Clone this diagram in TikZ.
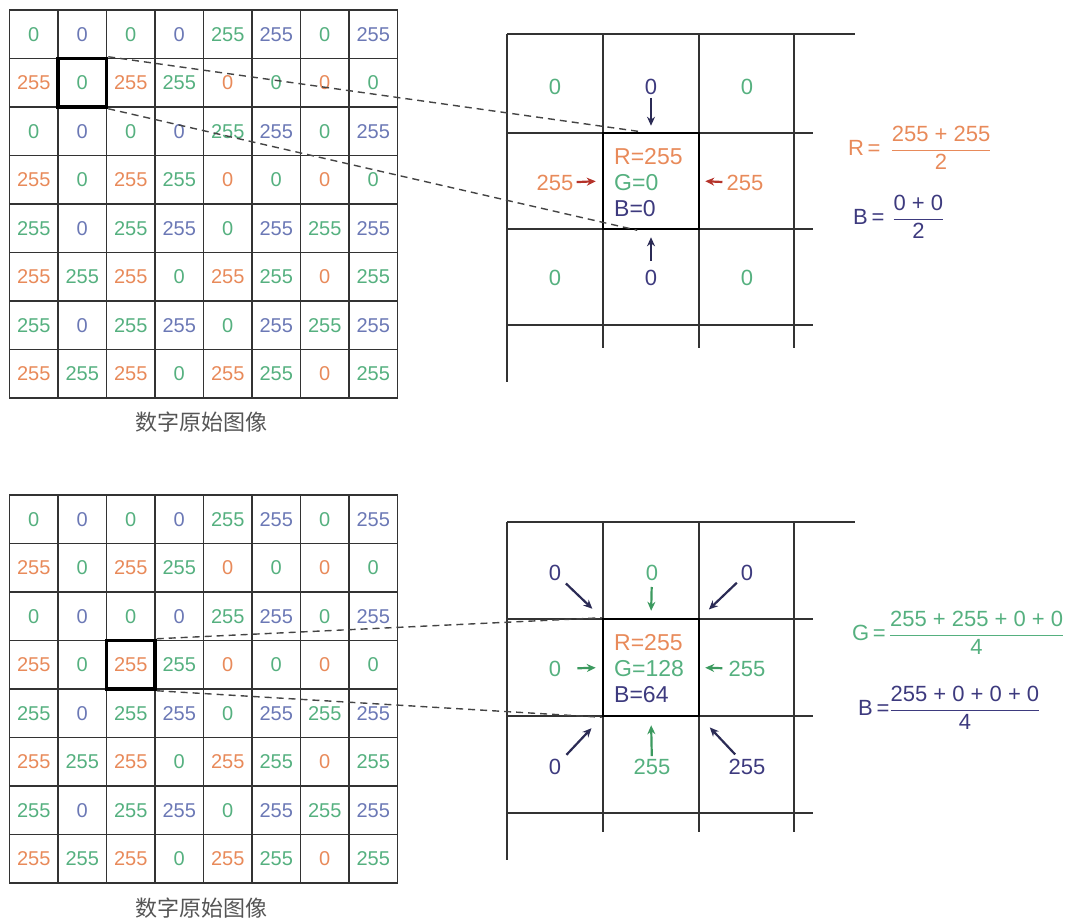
\documentclass[tikz,border=0pt]{standalone}
\usepackage{fontspec}
\setmainfont{Liberation Sans}
\newfontfamily\cjk{Noto Sans CJK SC}
\usepackage{amsmath}
\usepackage{tikz}
\usetikzlibrary{arrows.meta, calc}
\definecolor{rcol}{HTML}{E88A5A}
\definecolor{gcol}{HTML}{55B07F}
\definecolor{bcol}{HTML}{6B78B5}
\definecolor{navy}{HTML}{3D3A7E}
\definecolor{redarr}{HTML}{B5332A}
\definecolor{grnarr}{HTML}{3C9A5F}
\definecolor{navyarr}{HTML}{2B2B55}
\definecolor{gridc}{HTML}{333333}
\definecolor{linkc}{HTML}{444444}
\definecolor{capc}{HTML}{555555}
\colorlet{cell00}{gcol}
\colorlet{cell01}{bcol}
\colorlet{cell10}{rcol}
\colorlet{cell11}{gcol}

\begin{document}
\begin{tikzpicture}[x=1pt, y=-1pt,
  cell/.style={draw=gridc, line width=1.4pt, minimum width=48.5pt,
               minimum height=48.5pt, inner sep=0pt,
               font=\fontsize{20}{20}\selectfont},
  selbox/.style={draw=black, line width=3.5pt, minimum width=48.5pt,
                 minimum height=48.5pt, inner sep=0pt},
  ctrbox/.style={draw=black, line width=2.5pt, minimum width=96pt,
                 minimum height=96pt, inner sep=0pt},
  zline/.style={gridc, line width=1.4pt},
  zlab/.style={font=\fontsize{22}{22}\selectfont, inner sep=1pt},
  vals/.style={anchor=west, align=left, inner sep=0pt,
               font=\fontsize{23}{26}\selectfont},
  arrR/.style={-{Stealth[length=9pt,width=8pt]}, line width=2.2pt, redarr},
  arrN/.style={-{Stealth[length=9pt,width=8pt]}, line width=2.2pt, navyarr},
  arrG/.style={-{Stealth[length=9pt,width=8pt]}, line width=2.2pt, grnarr},
  link/.style={dash pattern=on 7pt off 5pt, line width=1.4pt, linkc},
  formula/.style={anchor=west, inner sep=0pt, font=\fontsize{22}{26}\selectfont},
  caption/.style={font=\cjk\fontsize{22}{22}\selectfont, text=capc}
]
\useasboundingbox (0,0) rectangle (1065,919);

% two copies of the raw pixel grid
\foreach \g/\oy in {1/10, 2/495} {
  \foreach \row [count=\r from 0] in {{0,0,0,0,255,255,0,255},{255,0,255,255,0,0,0,0},
      {0,0,0,0,255,255,0,255},{255,0,255,255,0,0,0,0},{255,0,255,255,0,255,255,255},
      {255,255,255,0,255,255,0,255},{255,0,255,255,0,255,255,255},{255,255,255,0,255,255,0,255}} {
    \foreach \v [count=\c from 0] in \row {
      \pgfmathtruncatemacro\pr{mod(\r,2)}
      \pgfmathtruncatemacro\pc{mod(\c,2)}
      \node[cell, text=cell\pr\pc] (c\g-\r-\c) at ({33.75+48.5*\c}, {\oy+24.25+48.5*\r}) {\v};
    }
  }
}
\node[selbox] (sel1) at (c1-1-1) {};
\node[selbox] (sel2) at (c2-3-2) {};

\node[caption] (cap1) at (201,422) {数字原始图像};
\node[caption] (cap2) at (201,908) {数字原始图像};

% upper zoom
\draw[zline] (507,34) -- (855,34);
\foreach \yy in {133,229,325} \draw[zline] (507,\yy) -- (813,\yy);
\draw[zline] (507,34) -- (507,382);
\foreach \xx in {603,699,794} \draw[zline] (\xx,34) -- (\xx,348);
\node[ctrbox] (ctr1) at (651,181) {};

\node[zlab, text=gcol] (g1a) at (555,87) {0};
\node[zlab, text=gcol] (g1b) at (747,87) {0};
\node[zlab, text=gcol] (g1c) at (555,278) {0};
\node[zlab, text=gcol] (g1d) at (747,278) {0};
\node[zlab, text=navy] (n1t) at (651,87) {0};
\node[zlab, text=navy] (n1b) at (651,278) {0};
\node[zlab, text=rcol] (n1l) at (555,183) {255};
\node[zlab, text=rcol] (n1r) at (745,183) {255};
\node[vals] (val1) at (614,183)
  {\textcolor{rcol}{R=255}\\\textcolor{gcol}{G=0}\\\textcolor{navy}{B=0}};

\draw[arrN, shorten <=2pt, shorten >=6pt] (n1t) -- (ctr1.north);
\draw[arrN, shorten <=8pt, shorten >=7pt] (n1b) -- (ctr1.south);
\draw[arrR, shorten <=2pt, shorten >=6pt] (n1l) -- (ctr1.west);
\draw[arrR, shorten <=3pt, shorten >=5pt] (n1r) -- (ctr1.east);

\draw[link] (sel1.north east) -- ($(ctr1.north west)!0.4!(ctr1.north east)$);
\draw[link] (sel1.south east) -- ($(ctr1.south west)!0.36!(ctr1.south east)$);

\node[formula, text=rcol] (fR) at (848,148) {R\,=\hspace{10pt}$\dfrac{\text{255 + 255}}{\text{2}}$};
\node[formula, text=navy] (fB1) at (853,217) {B\,=\hspace{8pt}$\dfrac{\text{0 + 0}}{\text{2}}$};

% lower zoom
\draw[zline] (507,522) -- (855,522);
\foreach \yy in {619,716,813} \draw[zline] (507,\yy) -- (813,\yy);
\draw[zline] (507,522) -- (507,860);
\foreach \xx in {603,699,794} \draw[zline] (\xx,522) -- (\xx,832);
\node[ctrbox, minimum height=97pt] (ctr2) at (651,667.5) {};

\node[zlab, text=navy] (n2tl) at (555,573) {0};
\node[zlab, text=gcol] (n2t)  at (652,573) {0};
\node[zlab, text=navy] (n2tr) at (747,573) {0};
\node[zlab, text=gcol] (n2l)  at (555,669) {0};
\node[zlab, text=gcol] (n2r)  at (747,669) {255};
\node[zlab, text=navy] (n2bl) at (555,767) {0};
\node[zlab, text=gcol] (n2b)  at (652,767) {255};
\node[zlab, text=navy] (n2br) at (747,767) {255};
\node[vals] (val2) at (614,669)
  {\textcolor{rcol}{R=255}\\\textcolor{gcol}{G=128}\\\textcolor{navy}{B=64}};

\draw[arrN, shorten <=5pt, shorten >=13pt] (n2tl) -- (ctr2.north west);
\draw[arrG, shorten <=5pt, shorten >=7pt] (n2t) -- (ctr2.north);
\draw[arrN, shorten <=4pt, shorten >=12pt] (n2tr) -- (ctr2.north east);
\draw[arrG, shorten <=15pt, shorten >=6pt] (n2l) -- (ctr2.west);
\draw[arrG, shorten <=5pt, shorten >=5pt] (n2r) -- (ctr2.east);
\draw[arrN, shorten <=6pt, shorten >=15pt] (n2bl) -- (ctr2.south west);
\draw[arrG, shorten <=2pt, shorten >=8pt] (n2b) -- (ctr2.south);
\draw[arrN, shorten <=5pt, shorten >=14pt] (n2br) -- (ctr2.south east);

\draw[link] (sel2.north east) -- (ctr2.north west);
\draw[link] (sel2.south east) -- (ctr2.south west);

\node[formula, text=gcol] (fG) at (852,633) {G\,=\hspace{3pt}$\dfrac{\text{255 + 255 + 0 + 0}}{\text{4}}$};
\node[formula, text=navy] (fB2) at (858,708) {B\,=\hspace{0pt}$\dfrac{\text{255 + 0 + 0 + 0}}{\text{4}}$};
\end{tikzpicture}
\end{document}
